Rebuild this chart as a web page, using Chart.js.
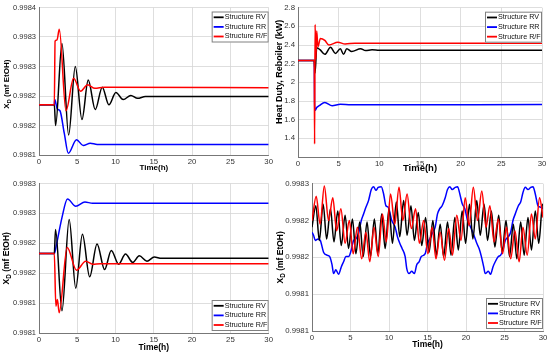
<!DOCTYPE html>
<html lang="en">
<head>
<meta charset="UTF-8">
<title>chart</title>
<script src="https://cdn.jsdelivr.net/npm/chart.js"></script>
<style>
  body { margin: 0; background: #fff; }
  #wrap { position: relative; width: 550px; height: 353px; }
  canvas { position: absolute; }
</style>
</head>
<body>
<div id="wrap">
  <canvas id="c1" width="275" height="176" style="left:0;top:0"></canvas>
  <canvas id="c2" width="275" height="176" style="left:275px;top:0"></canvas>
  <canvas id="c3" width="275" height="177" style="left:0;top:176px"></canvas>
  <canvas id="c4" width="275" height="177" style="left:275px;top:176px"></canvas>
</div>
<script>
const seriesNames = ['Structure RV', 'Structure RR', 'Structure R/F'];
const seriesColors = ['#000000', '#0000ff', '#ff0000'];
const xTicks = [0, 5, 10, 15, 20, 25, 30];

// top left: X_D, step 1
const p1YTicks = [0.99815, 0.99820, 0.99825, 0.99830, 0.99835, 0.99840];
const p1YLabels = ['0.9981', '0.9982', '0.9982', '0.9983', '0.9983', '0.9984'];
const p1RV_t = [0, 2, 2.17, 3.0, 3.87, 4.74, 5.61, 6.43, 7.35, 8.26, 9.13, 10.04, 11.0, 12.0, 12.87, 13.9, 15, 30];
const p1RV_y = [0.998235, 0.998235, 0.998200, 0.998339, 0.998184, 0.998300, 0.998210, 0.998277, 0.998227, 0.998265, 0.998235, 0.998256, 0.998244, 0.998251, 0.998246, 0.998249, 0.998249, 0.998249];
const p1RR_t = [0, 2, 2.05, 2.4, 2.74, 3.3, 3.83, 4.9, 5.78, 6.7, 7.6, 30];
const p1RR_y = [0.998235, 0.998235, 0.998244, 0.998228, 0.998225, 0.998187, 0.998153, 0.998176, 0.998166, 0.998170, 0.998168, 0.998168];
const p1RF_t = [0, 2, 2.1, 2.35, 2.65, 3.52, 4.52, 5.43, 6.35, 7.3, 8.5, 30];
const p1RF_y = [0.998235, 0.998235, 0.998343, 0.998345, 0.998363, 0.998225, 0.998280, 0.998258, 0.998269, 0.998263, 0.998265, 0.998264];

// top right: reboiler heat duty
const p2YTicks = [1.2, 1.4, 1.6, 1.8, 2.0, 2.2, 2.4, 2.6, 2.8];
const p2YLabels = ['', '1.4', '1.6', '1.8', '2', '2.2', '2.4', '2.6', '2.8'];
const p2RV_t = [0, 2, 2.1, 2.3, 2.7, 3.3, 4.0, 4.6, 5.2, 5.6, 6.0, 6.6, 7.7, 8.3, 9.1, 10, 30];
const p2RV_y = [2.235, 2.235, 2.10, 2.37, 2.35, 2.30, 2.375, 2.31, 2.36, 2.30, 2.36, 2.33, 2.36, 2.34, 2.35, 2.345, 2.345];
const p2RR_t = [0, 2, 2.03, 2.1, 2.3, 2.6, 3.3, 4.2, 5.2, 6.5, 30];
const p2RR_y = [2.235, 2.235, 1.82, 1.70, 1.73, 1.75, 1.785, 1.75, 1.765, 1.76, 1.762];
const p2RF_t = [0, 2, 2.04, 2.1, 2.2, 2.3, 2.45, 2.75, 3.3, 3.8, 4.9, 5.8, 7.0, 30];
const p2RF_y = [2.235, 2.235, 1.34, 2.62, 2.25, 2.55, 2.38, 2.47, 2.45, 2.40, 2.43, 2.41, 2.42, 2.418];

// bottom left: X_D, step 2
const p3YTicks = [0.99805, 0.99810, 0.99815, 0.99820, 0.99825, 0.99830];
const p3YLabels = ['0.9981', '0.9981', '0.9982', '0.9982', '0.9983', '0.9983'];
const p3RV_t = [0, 2, 2.16, 3.0, 3.94, 4.8, 5.67, 6.62, 7.58, 8.57, 9.44, 10.4, 11.3, 12.25, 13.1, 14.1, 15.06, 16, 30];
const p3RV_y = [0.998183, 0.998183, 0.998223, 0.998087, 0.998240, 0.998125, 0.998215, 0.998144, 0.998199, 0.998156, 0.998188, 0.998165, 0.998182, 0.998168, 0.998179, 0.998170, 0.998177, 0.998175, 0.998175];
const p3RR_t = [0, 2, 2.3, 3.0, 3.72, 4.8, 6.0, 7, 30];
const p3RR_y = [0.998183, 0.998183, 0.998199, 0.998243, 0.998274, 0.998262, 0.998269, 0.998267, 0.998267];
const p3RF_t = [0, 2, 2.2, 2.4, 2.64, 3.68, 4.9, 6.1, 7.0, 8, 30];
const p3RF_y = [0.998183, 0.998183, 0.998095, 0.998106, 0.998084, 0.998193, 0.998155, 0.998170, 0.998165, 0.998166, 0.998166];

// bottom right: X_D, periodic disturbance
const p4YTicks = [0.99810, 0.99815, 0.99820, 0.99825, 0.99830];
const p4YLabels = ['0.9981', '0.9981', '0.9982', '0.9982', '0.9983'];
const p4RV_t = [0, 0.5, 0.95, 1.45, 1.9, 2.4, 2.85, 3.35, 3.8, 4.3, 4.75, 5.25, 5.7, 6.2, 6.65, 7.15, 7.6, 8.1, 8.55, 9.05, 9.5, 10.0, 10.45, 10.95, 11.4, 11.9, 12.35, 12.85, 13.3, 13.8, 14.25, 14.75, 15.2, 15.7, 16.15, 16.65, 17.1, 17.6, 18.05, 18.55, 19.0, 19.5, 19.95, 20.45, 20.9, 21.4, 21.85, 22.35, 22.8, 23.3, 23.75, 24.25, 24.7, 25.2, 25.65, 26.15, 26.6, 27.1, 27.55, 28.05, 28.5, 29.0, 29.45, 29.95, 30];
const p4RV_y = [0.998241, 0.998270, 0.998223, 0.998272, 0.998225, 0.998266, 0.998221, 0.998263, 0.998216, 0.998257, 0.998212, 0.998252, 0.998205, 0.998248, 0.998201, 0.998248, 0.998201, 0.998252, 0.998205, 0.998259, 0.998212, 0.998266, 0.998219, 0.998275, 0.998228, 0.998277, 0.998230, 0.998270, 0.998223, 0.998261, 0.998216, 0.998254, 0.998207, 0.998250, 0.998203, 0.998245, 0.998201, 0.998248, 0.998203, 0.998254, 0.998210, 0.998263, 0.998219, 0.998272, 0.998225, 0.998277, 0.998230, 0.998272, 0.998223, 0.998263, 0.998214, 0.998257, 0.998207, 0.998250, 0.998201, 0.998245, 0.998198, 0.998248, 0.998203, 0.998254, 0.998210, 0.998263, 0.998219, 0.998272, 0.998270];
const p4RR_t = [0, 0.2, 0.43, 0.78, 1.08, 1.5, 1.94, 2.3, 2.6, 2.8, 3.1, 3.45, 3.8, 4.1, 4.4, 4.75, 5.1, 5.4, 5.7, 6.04, 6.4, 6.7, 7.0, 7.34, 7.7, 8.0, 8.3, 8.6, 9.0, 9.3, 9.6, 9.9, 10.36, 10.8, 11.1, 11.4, 11.7, 12.1, 12.3, 12.6, 12.95, 13.3, 13.6, 13.9, 14.2, 14.7, 15.0, 15.3, 15.6, 16.0, 16.3, 16.6, 16.9, 17.3, 17.6, 17.9, 18.2, 18.6, 18.9, 19.2, 19.5, 19.85, 20.2, 20.6, 21.1, 21.4, 21.7, 22.0, 22.3, 22.5, 22.9, 23.2, 23.5, 23.8, 24.2, 24.5, 24.8, 25.1, 25.5, 25.8, 26.1, 26.4, 26.8, 27.1, 27.4, 27.7, 28.05, 28.4, 28.7, 29.0, 29.35, 29.7, 30];
const p4RR_y = [0.998234, 0.998230, 0.998223, 0.998225, 0.998223, 0.998207, 0.998203, 0.998201, 0.998190, 0.998178, 0.998183, 0.998177, 0.998187, 0.998194, 0.998201, 0.998201, 0.998210, 0.998223, 0.998225, 0.998232, 0.998250, 0.998259, 0.998268, 0.998277, 0.998292, 0.998296, 0.998291, 0.998295, 0.998296, 0.998286, 0.998270, 0.998268, 0.998250, 0.998241, 0.998228, 0.998219, 0.998212, 0.998201, 0.998185, 0.998178, 0.998181, 0.998178, 0.998190, 0.998194, 0.998201, 0.998205, 0.998219, 0.998225, 0.998232, 0.998241, 0.998259, 0.998266, 0.998270, 0.998281, 0.998292, 0.998296, 0.998292, 0.998295, 0.998296, 0.998286, 0.998273, 0.998266, 0.998250, 0.998241, 0.998228, 0.998219, 0.998212, 0.998201, 0.998187, 0.998178, 0.998181, 0.998177, 0.998187, 0.998194, 0.998201, 0.998203, 0.998210, 0.998223, 0.998228, 0.998234, 0.998250, 0.998259, 0.998270, 0.998275, 0.998288, 0.998295, 0.998292, 0.998295, 0.998296, 0.998286, 0.998270, 0.998268, 0.998266];
const p4RF_t = [0, 0.55, 1.05, 1.6, 2.15, 2.7, 3.2, 3.75, 4.3, 4.85, 5.35, 5.9, 6.45, 7.0, 7.5, 8.05, 8.6, 9.15, 9.65, 10.2, 10.75, 11.3, 11.8, 12.35, 12.9, 13.45, 13.95, 14.5, 15.05, 15.6, 16.1, 16.65, 17.2, 17.75, 18.25, 18.8, 19.35, 19.9, 20.4, 20.95, 21.5, 22.05, 22.6, 23.1, 23.65, 24.2, 24.75, 25.25, 25.8, 26.35, 26.9, 27.4, 27.95, 28.5, 29.0, 29.55, 30];
const p4RF_y = [0.998250, 0.998283, 0.998245, 0.998297, 0.998250, 0.998281, 0.998236, 0.998266, 0.998219, 0.998250, 0.998205, 0.998241, 0.998198, 0.998234, 0.998194, 0.998241, 0.998201, 0.998259, 0.998221, 0.998286, 0.998245, 0.998295, 0.998250, 0.998286, 0.998239, 0.998266, 0.998219, 0.998250, 0.998205, 0.998241, 0.998198, 0.998234, 0.998196, 0.998239, 0.998203, 0.998257, 0.998223, 0.998281, 0.998243, 0.998295, 0.998250, 0.998290, 0.998241, 0.998270, 0.998221, 0.998252, 0.998205, 0.998241, 0.998198, 0.998236, 0.998194, 0.998241, 0.998203, 0.998259, 0.998225, 0.998281, 0.998254];

const FONT = '"Liberation Sans", Arial, sans-serif';

function pts(ts, ys) {
  return ts.map((t, i) => ({ x: t, y: ys[i] }));
}

// legend box drawn inside the plot area
const boxLegend = {
  id: 'boxLegend',
  afterDatasetsDraw(chart, args, opts) {
    const { ctx, chartArea } = chart;
    const w = 57, h = 31;
    const x0 = chartArea.right - w;
    const y0 = opts.corner === 'bottom' ? chartArea.bottom - h - 2 : chartArea.top + 4;
    ctx.save();
    ctx.fillStyle = '#fff';
    ctx.fillRect(x0, y0, w, h);
    ctx.strokeStyle = '#808080';
    ctx.lineWidth = 1;
    ctx.strokeRect(x0 + 0.5, y0 + 0.5, w - 1, h - 1);
    ctx.font = '7.2px ' + FONT;
    ctx.textBaseline = 'middle';
    chart.data.datasets.forEach((ds, i) => {
      const y = y0 + 5.8 + i * 9.6;
      ctx.strokeStyle = ds.borderColor;
      ctx.lineWidth = 1.8;
      ctx.beginPath();
      ctx.moveTo(x0 + 2, y);
      ctx.lineTo(x0 + 12, y);
      ctx.stroke();
      ctx.fillStyle = '#111';
      ctx.fillText(ds.label, x0 + 13, y);
    });
    ctx.restore();
  }
};

// rotated y title with subscript support
const yTitle = {
  id: 'yTitle',
  afterDraw(chart, args, opts) {
    const { ctx, chartArea } = chart;
    const cy = chartArea.top + (chartArea.bottom - chartArea.top) * opts.mid;
    ctx.save();
    ctx.translate(opts.x, cy);
    ctx.rotate(-Math.PI / 2);
    ctx.fillStyle = '#000';
    ctx.textBaseline = 'middle';
    let total = 0;
    opts.parts.forEach(p => {
      ctx.font = 'bold ' + p.size + 'px ' + FONT;
      total += ctx.measureText(p.text).width;
    });
    let x = -total / 2;
    opts.parts.forEach(p => {
      ctx.font = 'bold ' + p.size + 'px ' + FONT;
      ctx.fillText(p.text, x, p.dy || 0);
      x += ctx.measureText(p.text).width;
    });
    ctx.restore();
  }
};

function makeChart(id, cfg) {
  const datasets = [
    { label: seriesNames[0], data: pts(cfg.rv[0], cfg.rv[1]), borderColor: seriesColors[0], order: 1 },
    { label: seriesNames[1], data: pts(cfg.rr[0], cfg.rr[1]), borderColor: seriesColors[1], order: 2 },
    { label: seriesNames[2], data: pts(cfg.rf[0], cfg.rf[1]), borderColor: seriesColors[2], order: 0 }
  ];
  datasets.forEach(d => {
    d.borderWidth = 1.5;
    d.pointRadius = 0;
    d.fill = false;
    d.cubicInterpolationMode = 'monotone';
  });
  return new Chart(document.getElementById(id), {
    type: 'line',
    data: { datasets: datasets },
    options: {
      responsive: false,
      animation: false,
      events: [],
      layout: { padding: { top: cfg.top, right: cfg.right, left: 0, bottom: 0 } },
      plugins: {
        legend: { display: false },
        tooltip: { enabled: false },
        boxLegend: { corner: cfg.corner },
        yTitle: cfg.yTitle
      },
      scales: {
        x: {
          type: 'linear',
          min: 0,
          max: 30,
          afterBuildTicks: s => { s.ticks = xTicks.map(v => ({ value: v })); },
          afterFit: s => { s.height = cfg.xh; },
          ticks: { font: { family: FONT, size: 7.8 }, color: '#333', padding: 2, maxRotation: 0 },
          grid: { color: '#d6d6d6', lineWidth: 0.8, drawTicks: false },
          border: { color: '#777', width: 1 },
          title: { display: true, text: 'Time(h)', color: '#000', font: { family: FONT, size: cfg.xtSize, weight: 'bold' }, padding: { top: 0, bottom: cfg.xtPad } }
        },
        y: {
          type: 'linear',
          min: cfg.yTicks[0],
          max: cfg.yTicks[cfg.yTicks.length - 1],
          afterBuildTicks: s => { s.ticks = cfg.yTicks.map(v => ({ value: v })); },
          afterFit: s => { s.width = cfg.yw; },
          ticks: {
            font: { family: FONT, size: cfg.ytSize },
            color: '#333',
            padding: 3,
            callback: (v, i) => cfg.yLabels[i]
          },
          grid: { color: '#d6d6d6', lineWidth: 0.8, drawTicks: false },
          border: { color: '#777', width: 1 }
        }
      }
    },
    plugins: [boxLegend, yTitle]
  });
}

const xdTitle = size => [
  { text: 'X', size: size },
  { text: 'D', size: size * 0.75, dy: 2.5 },
  { text: ' (mf EtOH)', size: size }
];

makeChart('c1', {
  rv: [p1RV_t, p1RV_y], rr: [p1RR_t, p1RR_y], rf: [p1RF_t, p1RF_y],
  yTicks: p1YTicks, yLabels: p1YLabels,
  top: 5, right: 6, yw: 39, xh: 21, xtPad: 3, xtSize: 8, ytSize: 7.5, corner: 'top',
  yTitle: { x: 7, mid: 0.52, parts: xdTitle(8) }
});
makeChart('c2', {
  rv: [p2RV_t, p2RV_y], rr: [p2RR_t, p2RR_y], rf: [p2RF_t, p2RF_y],
  yTicks: p2YTicks, yLabels: p2YLabels,
  top: 6, right: 8, yw: 23, xh: 19, xtPad: 1.5, xtSize: 9.5, ytSize: 7.8, corner: 'top',
  yTitle: { x: 4.5, mid: 0.43, parts: [{ text: 'Heat Duty, Reboiler (kW)', size: 9 }] }
});
makeChart('c3', {
  rv: [p3RV_t, p3RV_y], rr: [p3RR_t, p3RR_y], rf: [p3RF_t, p3RF_y],
  yTicks: p3YTicks, yLabels: p3YLabels,
  top: 5, right: 5, yw: 39, xh: 20, xtPad: 0.5, xtSize: 8.5, ytSize: 7.5, corner: 'bottom',
  yTitle: { x: 7, mid: 0.5, parts: xdTitle(8.5) }
});
makeChart('c4', {
  rv: [p4RV_t, p4RV_y], rr: [p4RR_t, p4RR_y], rf: [p4RF_t, p4RF_y],
  yTicks: p4YTicks, yLabels: p4YLabels,
  top: 6, right: 7, yw: 37, xh: 22, xtPad: 3.5, xtSize: 8.5, ytSize: 7.8, corner: 'bottom',
  yTitle: { x: 6, mid: 0.5, parts: xdTitle(8.5) }
});
</script>
</body>
</html>
